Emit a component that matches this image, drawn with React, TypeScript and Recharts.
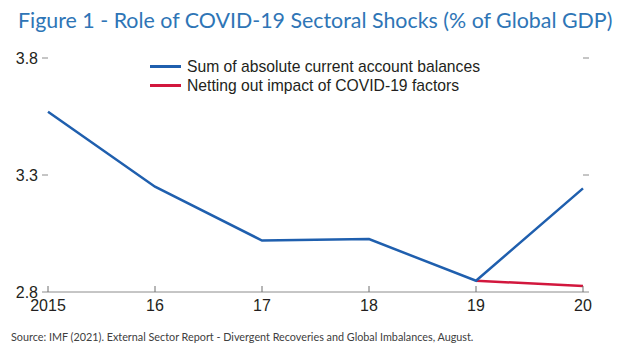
import { LineChart, Line, XAxis, YAxis } from 'recharts'

const years = ['2015', '16', '17', '18', '19', '20']
const sumBalances = [3.57, 3.25, 3.02, 3.026, 2.848, 3.243]
const nettingOut = [null, null, null, null, 2.848, 2.826]
const yTicks = [2.8, 3.3, 3.8]

const BLUE = '#1f5fae'
const RED = '#d2173d'
const GREY = '#8c8c8c'
const FONT = "'Liberation Sans', Arial, sans-serif"

const data = years.map((year, i) => ({
  year,
  sum: sumBalances[i],
  net: nettingOut[i],
}))

function YearTick({ x, y, payload }: { x?: number; y?: number; payload?: { value: string } }) {
  return (
    <g>
      <line x1={x} x2={x} y1={(y ?? 0) - 6} y2={y} stroke="#6f6f6f" strokeWidth={1} />
      <text x={x} y={(y ?? 0) + 19} textAnchor="middle" fontSize={16} fontFamily={FONT} fill="#231f20">
        {payload?.value}
      </text>
    </g>
  )
}

function LegendBox() {
  const items = [
    { color: BLUE, label: 'Sum of absolute current account balances' },
    { color: RED, label: 'Netting out impact of COVID-19 factors' },
  ]
  return (
    <div
      style={{
        position: 'absolute',
        left: 150,
        top: 57,
        fontFamily: FONT,
        fontSize: 15.7,
        color: '#231f20',
        lineHeight: '19px',
        whiteSpace: 'nowrap',
      }}
    >
      {items.map((it) => (
        <div key={it.label} style={{ display: 'flex', alignItems: 'center' }}>
          <span style={{ display: 'inline-block', width: 31, height: 3, background: it.color, marginRight: 6 }} />
          {it.label}
        </div>
      ))}
    </div>
  )
}

export default function App() {
  return (
    <div style={{ position: 'absolute', left: 0, top: 0, width: 624, height: 352, background: '#fff' }}>
      <div
        style={{
          position: 'absolute',
          left: 18,
          top: 7,
          fontFamily: 'Lato, sans-serif',
          fontSize: 21.4,
          color: '#2e75b6',
          whiteSpace: 'nowrap',
        }}
      >
        Figure 1 - Role of COVID-19 Sectoral Shocks (% of Global GDP)
      </div>
      <LineChart width={624} height={352} data={data} margin={{ top: 58, right: 40, bottom: 59, left: 47 }}>
        <XAxis
          dataKey="year"
          height={1}
          tickSize={0}
          tickMargin={0}
          tickLine={false}
          axisLine={{ stroke: GREY }}
          tick={<YearTick />}
          interval={0}
        />
        <YAxis
          yAxisId="left"
          width={1}
          domain={[2.8, 3.8]}
          ticks={yTicks}
          axisLine={false}
          tickLine={{ stroke: GREY }}
          tickSize={6}
          tickMargin={4}
          tick={{ fontSize: 16, fontFamily: FONT, fill: '#231f20' }}
          tickFormatter={(v: number) => v.toFixed(1)}
        />
        <YAxis
          yAxisId="right"
          orientation="right"
          width={1}
          domain={[2.8, 3.8]}
          ticks={yTicks}
          axisLine={false}
          tickLine={{ stroke: GREY }}
          tickSize={6}
          tick={{ fontSize: 1, fill: 'transparent' }}
        />
        <Line
          yAxisId="right"
          dataKey="net"
          stroke={RED}
          strokeWidth={2.5}
          dot={false}
          isAnimationActive={false}
          connectNulls={false}
        />
        <Line
          yAxisId="left"
          dataKey="sum"
          stroke={BLUE}
          strokeWidth={2.5}
          dot={false}
          isAnimationActive={false}
        />
      </LineChart>
      <LegendBox />
      <div
        style={{
          position: 'absolute',
          left: 11,
          top: 330,
          fontFamily: 'Lato, sans-serif',
          fontSize: 10.8,
          color: '#404040',
          whiteSpace: 'nowrap',
        }}
      >
        Source: IMF (2021). External Sector Report - Divergent Recoveries and Global Imbalances, August.
      </div>
    </div>
  )
}
